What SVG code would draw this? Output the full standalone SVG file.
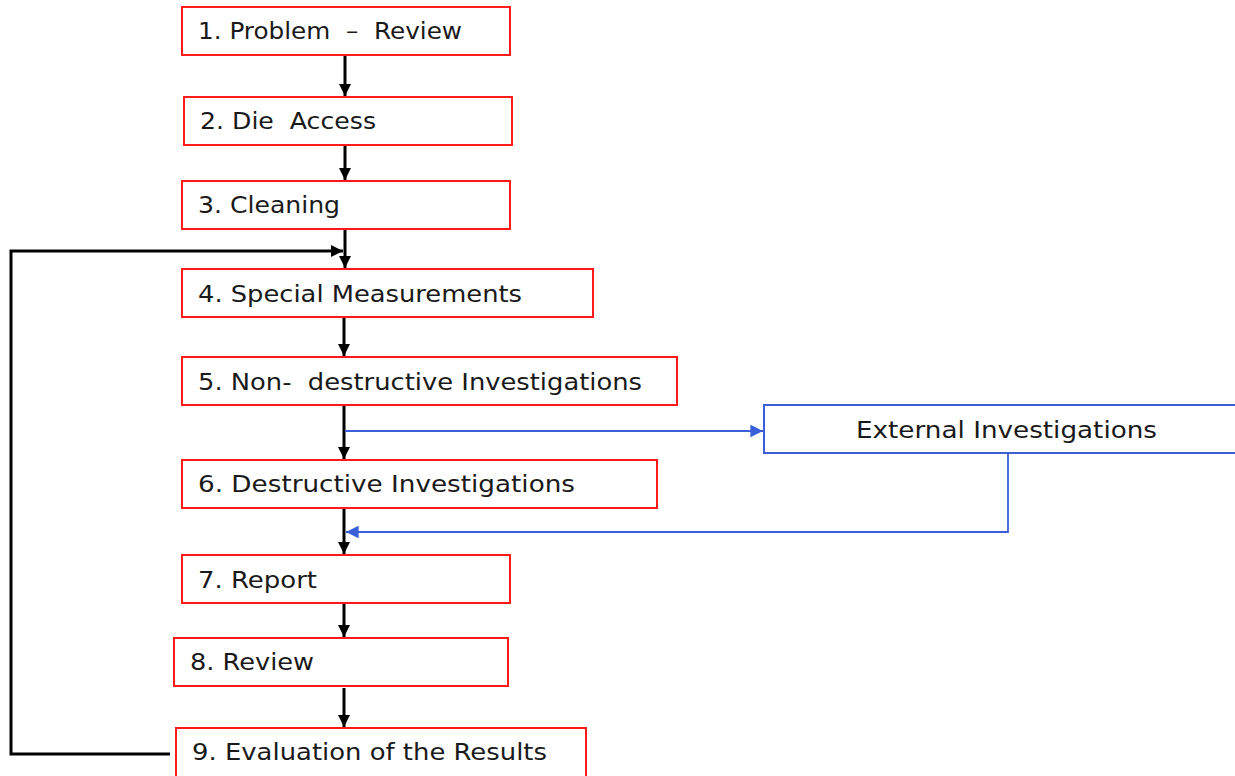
<svg xmlns="http://www.w3.org/2000/svg" width="1235" height="776" viewBox="0 0 1235 776">
<style>
.box{fill:#fff;stroke:#ff1a1a;stroke-width:2}
.ext{fill:#fff;stroke:#3a5fd9;stroke-width:2}
.t{font-family:"DejaVu Sans",Verdana,sans-serif;font-size:23px;fill:#1a1a1a;white-space:pre}
.k{fill:none;stroke:#000;stroke-width:3}
.b{fill:none;stroke:#3a5fd9;stroke-width:1.8}
</style>
<defs>
<marker id="ak" viewBox="0 0 10 10" refX="10" refY="5" markerWidth="4" markerHeight="4" markerUnits="strokeWidth" orient="auto"><path d="M0,0 L10,5 L0,10 z" fill="#000"/></marker>
<marker id="ab" viewBox="0 0 10 10" refX="10" refY="5" markerWidth="7" markerHeight="7" markerUnits="strokeWidth" orient="auto"><path d="M0,0 L10,5 L0,10 z" fill="#3a5fd9"/></marker>
</defs>
<rect width="1235" height="776" fill="#fff"/>
<g id="connectors">
<line class="k" x1="345" y1="55" x2="345" y2="96" marker-end="url(#ak)"/>
<line class="k" x1="345" y1="145" x2="345" y2="180" marker-end="url(#ak)"/>
<line class="k" x1="345" y1="229" x2="345" y2="268" marker-end="url(#ak)"/>
<path class="k" d="M170,754 L11,754 L11,251 L343,251" marker-end="url(#ak)"/>
<line class="k" x1="344" y1="317" x2="344" y2="356" marker-end="url(#ak)"/>
<line class="k" x1="344" y1="405" x2="344" y2="459" marker-end="url(#ak)"/>
<line class="b" x1="345" y1="431" x2="763" y2="431" marker-end="url(#ab)"/>
<path class="b" d="M1008,453 L1008,532 L346,532" marker-end="url(#ab)"/>
<line class="k" x1="344" y1="508" x2="344" y2="554" marker-end="url(#ak)"/>
<line class="k" x1="344" y1="603" x2="344" y2="637" marker-end="url(#ak)"/>
<line class="k" x1="344" y1="688" x2="344" y2="727" marker-end="url(#ak)"/>
</g>
<g id="n1"><rect class="box" x="182" y="7" width="328" height="48"/><text class="t" x="198" y="39" textLength="264" lengthAdjust="spacingAndGlyphs">1. Problem  –  Review</text></g>
<g id="n2"><rect class="box" x="184" y="97" width="328" height="48"/><text class="t" x="200" y="129" textLength="176" lengthAdjust="spacingAndGlyphs">2. Die  Access</text></g>
<g id="n3"><rect class="box" x="182" y="181" width="328" height="48"/><text class="t" x="198" y="213" textLength="142" lengthAdjust="spacingAndGlyphs">3. Cleaning</text></g>
<g id="n4"><rect class="box" x="182" y="269" width="411" height="48"/><text class="t" x="198" y="302" textLength="324" lengthAdjust="spacingAndGlyphs">4. Special Measurements</text></g>
<g id="n5"><rect class="box" x="182" y="357" width="495" height="48"/><text class="t" x="198" y="390" textLength="444" lengthAdjust="spacingAndGlyphs">5. Non-  destructive Investigations</text></g>
<g id="ext"><rect class="ext" x="764" y="405" width="476" height="48"/><text class="t" x="856" y="438" textLength="301" lengthAdjust="spacingAndGlyphs">External Investigations</text></g>
<g id="n6"><rect class="box" x="182" y="460" width="475" height="48"/><text class="t" x="198" y="492" textLength="377" lengthAdjust="spacingAndGlyphs">6. Destructive Investigations</text></g>
<g id="n7"><rect class="box" x="182" y="555" width="328" height="48"/><text class="t" x="198" y="588" textLength="119" lengthAdjust="spacingAndGlyphs">7. Report</text></g>
<g id="n8"><rect class="box" x="174" y="638" width="334" height="48"/><text class="t" x="190" y="670" textLength="124" lengthAdjust="spacingAndGlyphs">8. Review</text></g>
<g id="n9"><rect class="box" x="176" y="728" width="410" height="52"/><text class="t" x="192" y="760" textLength="355" lengthAdjust="spacingAndGlyphs">9. Evaluation of the Results</text></g>
</svg>
